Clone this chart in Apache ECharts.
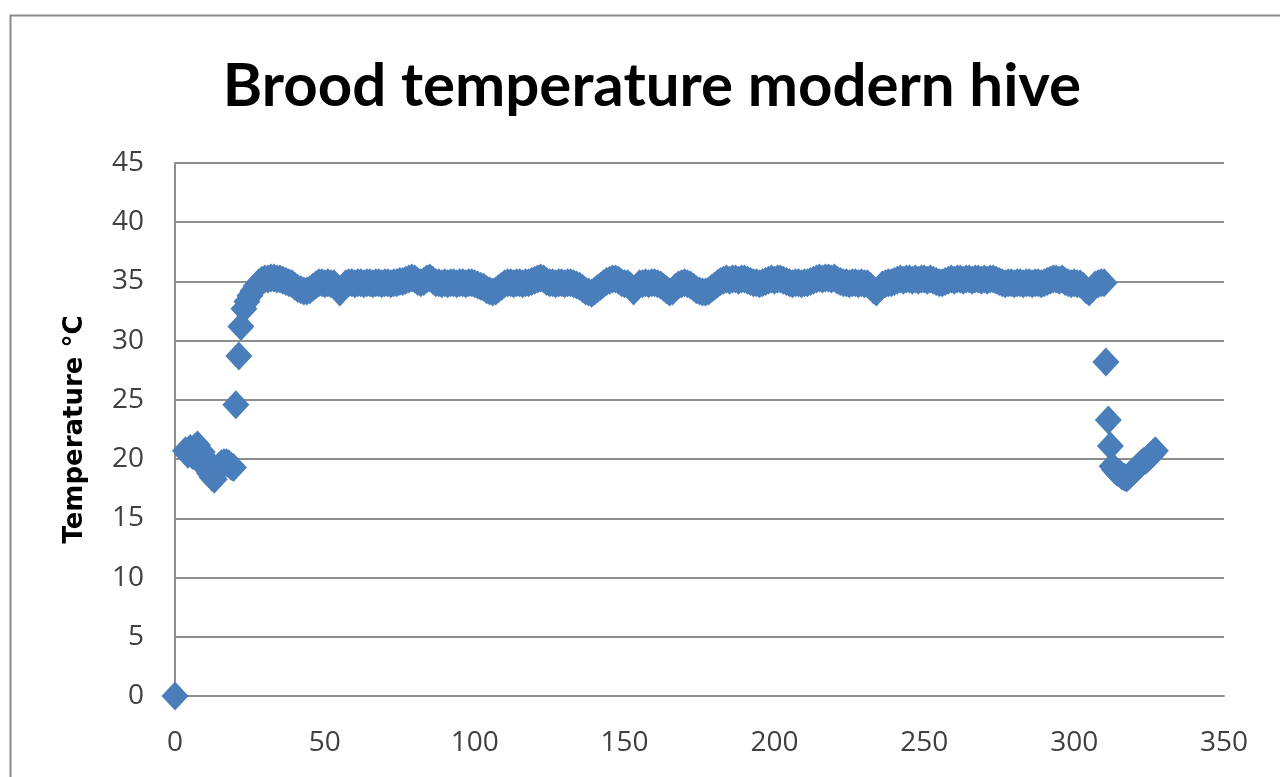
<!DOCTYPE html>
<html>
<head>
<meta charset="utf-8">
<title>Brood temperature modern hive</title>
<script src="https://cdn.jsdelivr.net/npm/echarts@6/dist/echarts.min.js"></script>
<style>
  html, body { margin: 0; padding: 0; background: #fff; }
  #chart { width: 1280px; height: 777px; }
</style>
</head>
<body>
<div id="chart"></div>
<script>
// ===== data =====
// start reading (sensor off)
const firstReading = [[0, 0]]
// before the colony warmed the brood (x, °C)
const earlyReadings = [
  [3.5, 20.7], [4.3, 20.4], [5.1, 20.9], [5.9, 20.3], [6.7, 21.0], [7.5, 21.2],
  [8.3, 19.8], [9.1, 20.6], [9.9, 19.4], [10.7, 19.9], [11.5, 18.8], [12.3, 18.5],
  [13.1, 18.3], [13.9, 19.0], [14.7, 19.4], [15.5, 19.6], [16.3, 19.7], [17.1, 19.7],
  [17.9, 19.6], [18.7, 19.4], [19.5, 19.3]
]
const warmupReadings = [[20.3, 24.6], [21.3, 28.7], [22.0, 31.2]]
// brood temperature, one reading per unit from x = 23 to 310
const broodStart = 23
const broodTemps = [
  32.7, 33.3, 33.8, 34.2, 34.6, 34.9, 35.1, 35.2, 35.2, 35.3,
  35.3, 35.2, 35.2, 35.1, 35.0, 34.9, 34.8, 34.6, 34.4, 34.3,
  34.2, 34.2, 34.3, 34.5, 34.7, 34.9, 34.9, 34.8, 34.9, 34.8,
  34.8, 34.5, 34.1, 34.5, 34.8, 34.9, 34.9, 34.8, 34.9, 34.9,
  34.8, 34.9, 34.9, 34.8, 34.9, 34.9, 34.8, 34.9, 34.9, 34.8,
  34.9, 34.9, 35.0, 35.0, 35.1, 35.2, 35.3, 35.2, 35.0, 34.9,
  35.0, 35.2, 35.3, 35.1, 34.9, 34.9, 34.8, 34.9, 34.8, 34.9,
  34.9, 34.8, 34.9, 34.9, 34.8, 34.9, 34.9, 34.8, 34.7, 34.6,
  34.5, 34.3, 34.2, 34.1, 34.2, 34.4, 34.6, 34.8, 34.9, 34.9,
  34.8, 34.9, 34.9, 34.8, 34.9, 34.9, 35.0, 35.1, 35.2, 35.3,
  35.2, 35.0, 34.9, 34.9, 34.8, 34.9, 34.9, 34.8, 34.9, 34.9,
  34.8, 34.7, 34.6, 34.4, 34.2, 34.1, 34.0, 34.2, 34.4, 34.6,
  34.8, 35.0, 35.1, 35.2, 35.2, 35.1, 34.9, 34.8, 34.8, 34.6,
  34.2, 34.5, 34.8, 34.8, 34.9, 34.8, 34.9, 34.9, 34.8, 34.7,
  34.5, 34.3, 34.1, 34.2, 34.5, 34.7, 34.8, 34.9, 34.8, 34.7,
  34.5, 34.3, 34.2, 34.1, 34.1, 34.2, 34.4, 34.6, 34.8, 35.0,
  35.1, 35.2, 35.1, 35.2, 35.2, 35.1, 35.2, 35.2, 35.1, 35.0,
  34.9, 34.9, 34.8, 34.9, 35.0, 35.1, 35.2, 35.1, 35.2, 35.2,
  35.1, 35.0, 34.9, 34.8, 34.9, 34.9, 34.8, 34.9, 34.9, 35.0,
  35.1, 35.2, 35.3, 35.2, 35.3, 35.3, 35.2, 35.3, 35.1, 35.0,
  34.9, 34.9, 34.8, 34.9, 34.9, 34.8, 34.9, 34.8, 34.8, 34.6,
  34.3, 34.1, 34.4, 34.7, 34.8, 34.9, 34.9, 35.0, 35.1, 35.2,
  35.1, 35.2, 35.2, 35.1, 35.2, 35.1, 35.2, 35.2, 35.1, 35.2,
  35.1, 35.0, 34.9, 34.9, 35.0, 35.1, 35.2, 35.1, 35.2, 35.2,
  35.1, 35.2, 35.2, 35.1, 35.2, 35.2, 35.1, 35.2, 35.1, 35.2,
  35.2, 35.1, 35.0, 34.9, 34.8, 34.9, 34.9, 34.8, 34.9, 34.9,
  34.8, 34.9, 34.9, 34.8, 34.9, 34.9, 34.8, 34.9, 35.0, 35.1,
  35.2, 35.2, 35.1, 35.2, 35.0, 34.9, 34.8, 34.9, 34.8, 34.8,
  34.6, 34.3, 34.1, 34.4, 34.7, 34.8, 34.9, 34.9
]
const cooldownReadings = [[310.6, 28.2], [311.4, 23.3], [312.1, 21.1]]
const lateReadings = [
  [312.7, 19.4], [313.5, 19.1], [314.3, 18.9], [315.1, 18.8], [315.9, 18.6],
  [316.7, 18.5], [317.5, 18.4], [318.3, 18.6], [319.1, 18.8], [319.9, 19.0],
  [320.7, 19.2], [321.5, 19.4], [322.3, 19.6], [323.1, 19.8], [323.9, 19.9],
  [324.7, 20.1], [325.5, 20.3], [326.3, 20.5], [327.1, 20.7]
]
const xTicks = { min: 0, max: 350, interval: 50 }
const yTicks = { min: 0, max: 45, interval: 5 }

// ===== build series points =====
const broodReadings = broodTemps.map((t, i) => [broodStart + i, t])
const points = [].concat(firstReading, earlyReadings, warmupReadings,
  broodReadings, cooldownReadings, lateReadings)

const gridColor = '#8e8e8e'
const labelColor = '#404040'

const chart = echarts.init(document.getElementById('chart'))
chart.setOption({
  backgroundColor: '#fff',
  animation: false,
  title: {
    text: 'Brood temperature modern hive',
    left: 647,
    top: 52,
    textAlign: 'center',
    textStyle: {
      fontFamily: 'Lato',
      fontWeight: 'bold',
      fontSize: 60,
      color: '#000'
    }
  },
  grid: { left: 175, right: 56, top: 163, bottom: 81 },
  xAxis: {
    type: 'value',
    min: xTicks.min,
    max: xTicks.max,
    interval: xTicks.interval,
    axisLine: { show: true, lineStyle: { color: gridColor, width: 2 } },
    axisTick: { show: false },
    splitLine: { show: false },
    axisLabel: {
      margin: 33,
      fontFamily: 'Open Sans',
      fontSize: 28,
      color: labelColor
    }
  },
  yAxis: {
    type: 'value',
    min: yTicks.min,
    max: yTicks.max,
    interval: yTicks.interval,
    name: 'Temperature °C',
    nameLocation: 'middle',
    nameGap: 87,
    nameTextStyle: {
      fontFamily: 'DejaVu Sans',
      fontWeight: 'bold',
      fontSize: 26,
      color: '#000'
    },
    axisLine: { show: true, lineStyle: { color: gridColor, width: 2 } },
    axisTick: { show: false },
    splitLine: { show: true, lineStyle: { color: gridColor, width: 2 } },
    axisLabel: {
      margin: 31,
      fontFamily: 'Open Sans',
      fontSize: 28,
      color: labelColor
    }
  },
  // chart frame, only top and left edges fall inside the picture
  graphic: [{
    type: 'rect',
    left: 8,
    top: 13,
    shape: { width: 1400, height: 900 },
    style: { fill: 'none', stroke: '#8a8a8a', lineWidth: 2 },
    silent: true
  }],
  series: [{
    type: 'scatter',
    data: points,
    symbol: 'diamond',
    symbolSize: [27, 29],
    clip: false,
    itemStyle: { color: '#4a7ebb', opacity: 1 }
  }]
})
</script>
</body>
</html>
